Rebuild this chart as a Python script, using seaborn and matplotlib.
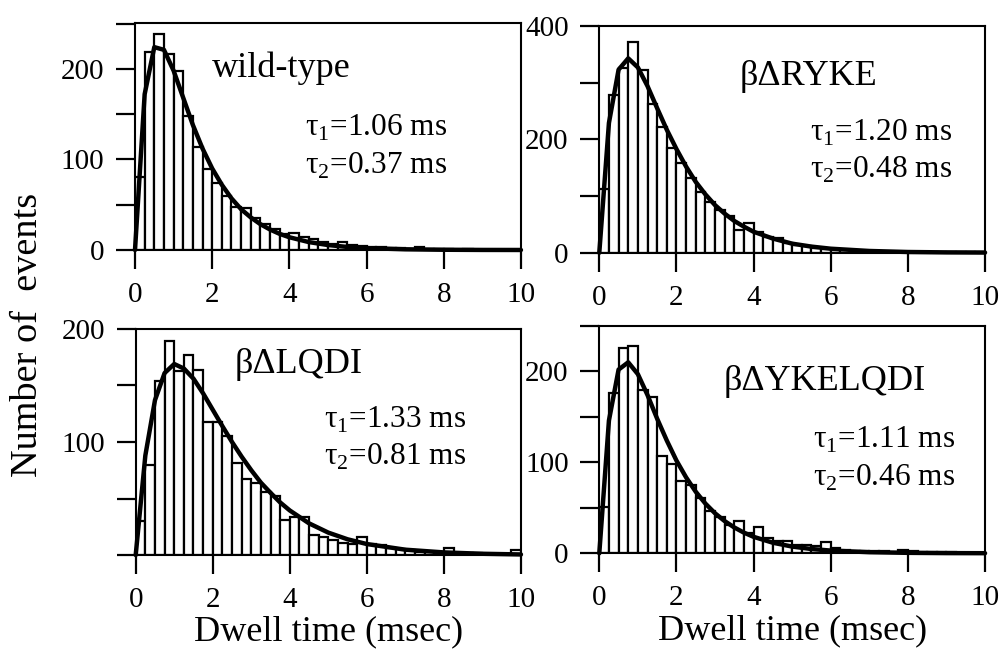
import numpy as np
import pandas as pd
import seaborn as sns
import matplotlib.pyplot as plt
from matplotlib.ticker import FixedLocator

# Dwell-time histograms, 0.25 ms bins from 0 to 10 ms
bin_width = 0.25
n_bins = 40

wt_counts = [81, 219, 238, 216, 198, 148, 114, 89, 74, 60, 48, 46, 35, 29, 23, 18,
             19, 14, 12, 9, 7, 9, 5, 4, 3.5, 3, 2.5, 2, 1.5, 3.5, 1.5, 1, 1, 0.5,
             1, 0.5, 0.5, 0.5, 0, 0.5]
ryke_counts = [112, 279, 326, 371, 322, 262, 222, 184, 159, 131, 108, 90, 76, 64, 40,
               52, 37, 28, 26, 18, 14, 12, 8, 6, 5, 4, 3, 3, 2, 2, 1.5, 1, 1, 1, 0.5,
               0.5, 1, 0.5, 0.5, 0.5]
lqdi_counts = [30, 80, 154, 189, 163, 177, 164, 118, 118, 105, 81, 67, 64, 56, 52, 31,
               34, 34, 18, 16, 13, 11, 10, 16, 10, 9, 6, 5, 4, 3, 2.5, 2, 6, 2, 1.5,
               1.5, 1, 0.5, 1, 4]
ykel_counts = [51, 176, 226, 228, 180, 172, 107, 98, 79, 75, 61, 47, 40, 31, 36, 22,
               29, 17, 13, 13, 9, 9, 8, 12, 5.5, 4, 3, 3, 2, 3, 1.5, 4, 2, 1, 1.5, 1,
               1, 0.5, 0.5, 0.5]

# fitted curves
fit_t = [0, 0.25, 0.5, 0.75, 1.0, 1.25, 1.5, 1.75, 2.0, 2.25, 2.5, 2.75, 3.0, 3.25,
         3.5, 3.75, 4.0, 4.5, 5.0, 5.5, 6.0, 7.0, 8.0, 9.0, 10.0]
wt_fit = [0, 172, 224, 221, 198, 168, 138, 112, 90, 72, 57, 45, 36, 28.5, 22.6, 17.8,
          14.1, 8.8, 5.5, 3.4, 2.1, 0.8, 0.3, 0.1, 0.05]
ryke_fit = [0, 229, 323, 343, 327, 294, 255, 217, 183, 152, 125, 103, 84, 69, 56, 46,
            37, 25, 16, 10.8, 7.1, 3.1, 1.3, 0.6, 0.3]
lqdi_fit = [0, 88, 137, 161, 169, 165, 156, 143, 128.5, 114, 100, 87, 75, 64, 55,
            46.5, 39.4, 28, 19.8, 13.9, 9.7, 4.7, 2.3, 1.1, 0.5]
ykel_fit = [0, 146, 202, 210, 197, 174, 148, 124, 102, 83.5, 67.7, 54.7, 44, 35.4,
            28.4, 22.7, 18.1, 11.6, 7.4, 4.7, 3.0, 1.2, 0.5, 0.2, 0.1]

names = ['wild-type', 'βΔRYKE', 'βΔLQDI', 'βΔYKELQDI']
tau1 = ['1.06', '1.20', '1.33', '1.11']
tau2 = ['0.37', '0.48', '0.81', '0.46']

sns.set_style('ticks')
plt.rcParams['font.family'] = ['Liberation Serif', 'DejaVu Serif']
plt.rcParams['mathtext.fontset'] = 'custom'
plt.rcParams['mathtext.rm'] = 'Liberation Serif'
plt.rcParams['axes.linewidth'] = 1.5
plt.rcParams['text.color'] = 'black'
plt.rcParams['axes.labelcolor'] = 'black'
plt.rcParams['xtick.color'] = 'black'
plt.rcParams['ytick.color'] = 'black'


def draw_panel(ax, counts, fit, name, t1, t2, ylim, yticks, ylabels,
               name_pos, tau_pos):
    centers = np.arange(n_bins) * bin_width + bin_width / 2
    df = pd.DataFrame({'t': centers, 'n': counts})
    sns.histplot(data=df, x='t', weights='n', bins=n_bins, binrange=(0, 10), ax=ax,
                 color='white', edgecolor='black', linewidth=1.6, alpha=1)
    sns.lineplot(x=fit_t, y=fit, ax=ax, color='black', linewidth=3.2,
                 clip_on=False)
    ax.set_xlim(0, 10)
    ax.set_ylim(*ylim)
    ax.xaxis.set_major_locator(FixedLocator([0, 2, 4, 6, 8, 10]))
    ax.yaxis.set_major_locator(FixedLocator(yticks))
    ax.set_yticklabels(ylabels)
    ax.tick_params(axis='x', length=14, width=1.6, pad=9, labelsize=21,
                   colors='black')
    ax.tick_params(axis='y', length=14, width=1.6, pad=8, labelsize=21,
                   colors='black')
    ax.set_xlabel('')
    ax.set_ylabel('')
    for s in ax.spines.values():
        s.set_color('black')
    ax.text(name_pos[0], name_pos[1], name, transform=ax.transAxes,
            fontsize=26, va='baseline', color='black')
    ax.text(tau_pos[0], tau_pos[1], 'τ$_1$=' + t1 + ' ms', transform=ax.transAxes,
            fontsize=22.5, va='baseline', color='black')
    ax.text(tau_pos[0], tau_pos[1] - 0.165, 'τ$_2$=' + t2 + ' ms',
            transform=ax.transAxes, fontsize=22.5, va='baseline', color='black')


fig = plt.figure(figsize=(10.03, 6.59), dpi=100)
ax1 = fig.add_axes([0.1346, 0.6206, 0.3848, 0.345])
ax2 = fig.add_axes([0.5975, 0.6165, 0.3846, 0.344])
ax3 = fig.add_axes([0.1353, 0.1578, 0.3841, 0.343])
ax4 = fig.add_axes([0.5975, 0.1604, 0.3846, 0.345])

draw_panel(ax1, wt_counts, wt_fit, names[0], tau1[0], tau2[0], (0, 251),
           [0, 50, 100, 150, 200, 250], ['0', '', '100', '', '200', ''],
           (0.199, 0.762), (0.44, 0.50))
draw_panel(ax2, ryke_counts, ryke_fit, names[1], tau1[1], tau2[1], (0, 400),
           [0, 100, 200, 300, 400], ['0', '', '200', '', '400'],
           (0.365, 0.74), (0.546, 0.494))
draw_panel(ax3, lqdi_counts, lqdi_fit, names[2], tau1[2], tau2[2], (0, 200),
           [0, 50, 100, 150, 200], ['', '', '100', '', '200'],
           (0.258, 0.807), (0.489, 0.563))
draw_panel(ax4, ykel_counts, ykel_fit, names[3], tau1[3], tau2[3], (0, 250),
           [0, 50, 100, 150, 200, 250], ['0', '', '100', '', '200', ''],
           (0.3215, 0.718), (0.555, 0.462))

ax3.set_xlabel('Dwell time (msec)', fontsize=26, labelpad=2, color='black')
ax4.set_xlabel('Dwell time (msec)', fontsize=26, labelpad=2, color='black')
fig.text(0.028, 0.492, 'Number of  events', rotation=90, fontsize=27.5,
         ha='center', va='center', color='black')

fig.savefig('out.png', dpi=100)
